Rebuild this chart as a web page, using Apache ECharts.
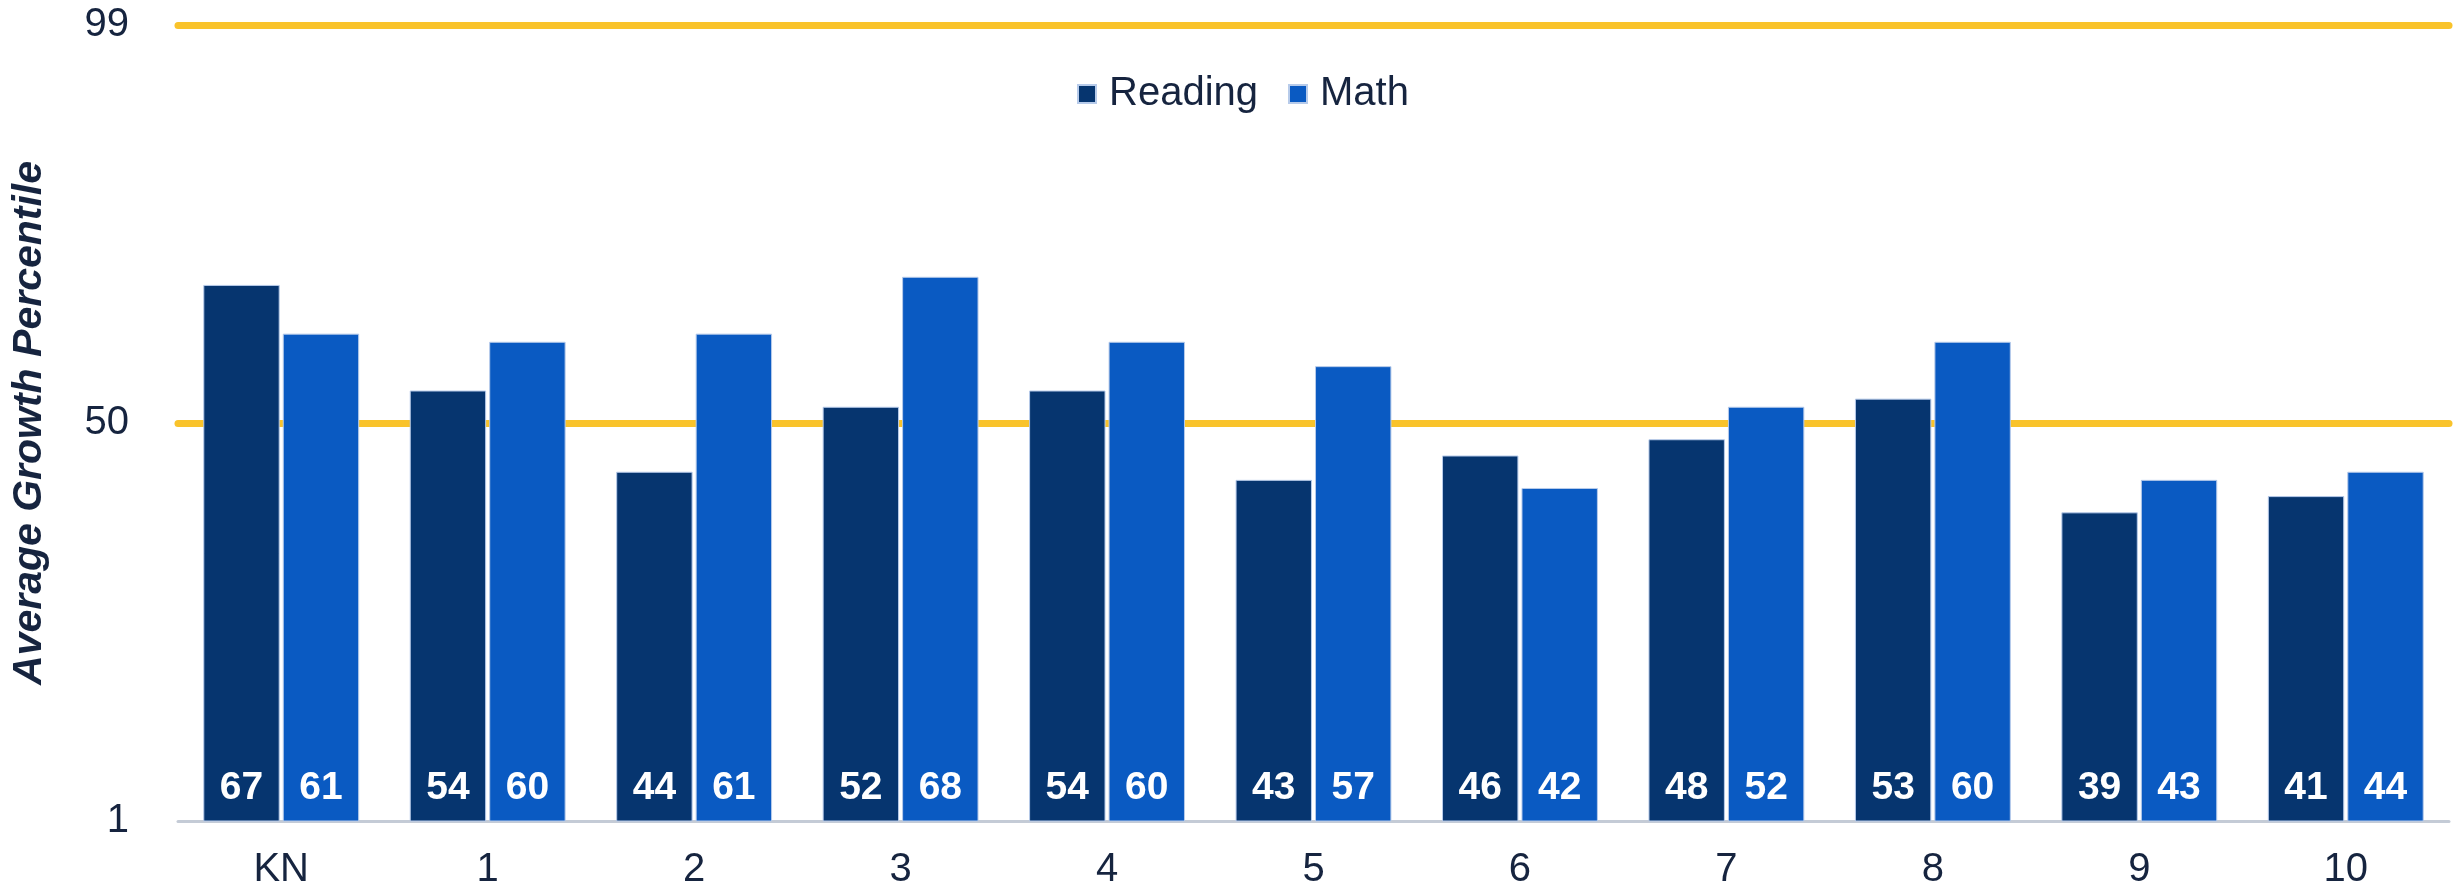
<!DOCTYPE html>
<html>
<head>
<meta charset="utf-8">
<script src="https://cdn.jsdelivr.net/npm/echarts@6/dist/echarts.min.js"></script>
<style>
html,body{margin:0;padding:0;background:#fff;}
#chart{width:2459px;height:894px;}
</style>
</head>
<body>
<div id="chart"></div>
<script>
const categories = ['KN','1','2','3','4','5','6','7','8','9','10'];
const readingValues = [67,54,44,52,54,43,46,48,53,39,41];
const mathValues = [61,60,61,68,60,57,42,52,60,43,44];
const yTickValues = [1,50,99];
const referenceLines = [50,99];
const seriesNames = ['Reading','Math'];
const yAxisTitle = 'Average Growth Percentile';

const FONT = 'Liberation Sans, Arial, sans-serif';
const TEXT = '#16243F';

const chart = echarts.init(document.getElementById('chart'), null, {renderer:'canvas'});

const labelStyle = {
  show: true,
  position: 'insideBottom',
  distance: 14,
  color: '#ffffff',
  fontFamily: FONT,
  fontWeight: 'bold',
  fontSize: 39
};

chart.setOption({
  animation: false,
  backgroundColor: '#ffffff',
  textStyle: {fontFamily: FONT},
  legend: {
    data: seriesNames,
    left: 1072,
    top: 69,
    itemWidth: 18,
    itemHeight: 18,
    itemGap: 30,
    icon: 'rect',
    textStyle: {fontFamily: FONT, fontSize: 40, color: TEXT, padding: [0,0,0,8]}
  },
  grid: {left: 178, right: 10, top: 25, bottom: 73},
  xAxis: {
    type: 'category',
    data: categories,
    axisLine: {show: true, lineStyle: {color: '#C4CBD6', width: 3}},
    axisTick: {show: false},
    axisLabel: {fontFamily: FONT, fontSize: 40, color: TEXT, margin: 29}
  },
  yAxis: {
    type: 'value',
    min: 1,
    max: 99,
    name: yAxisTitle,
    nameLocation: 'middle',
    nameRotate: 90,
    nameGap: 128,
    nameTextStyle: {fontFamily: FONT, fontSize: 41, fontWeight: 'bold', fontStyle: 'italic', color: TEXT},
    axisLine: {show: false},
    axisTick: {show: false},
    splitLine: {show: false},
    axisLabel: {
      customValues: yTickValues,
      fontFamily: FONT, fontSize: 40, color: TEXT, margin: 49
    }
  },
  series: [
    {
      name: 'refLines',
      type: 'line',
      data: [],
      silent: true,
      z: 1,
      markLine: {
        z: 1,
        silent: true,
        symbol: ['none','none'],
        label: {show: false},
        lineStyle: {color: '#F9C32B', width: 7, type: 'solid', cap: 'round'},
        emphasis: {disabled: true},
        data: referenceLines.map(v => ({yAxis: v}))
      }
    },
    {
      name: seriesNames[0],
      type: 'bar',
      data: readingValues,
      z: 3,
      barGap: '4%',
      barCategoryGap: '24.5%',
      itemStyle: {color: '#06356F', borderColor: '#B7CBEA', borderWidth: 1},
      label: labelStyle
    },
    {
      name: seriesNames[1],
      type: 'bar',
      data: mathValues,
      z: 3,
      barGap: '4%',
      barCategoryGap: '24.5%',
      itemStyle: {color: '#0A5AC2', borderColor: '#B7CBEA', borderWidth: 1},
      label: labelStyle
    }
  ]
});
</script>
</body>
</html>
